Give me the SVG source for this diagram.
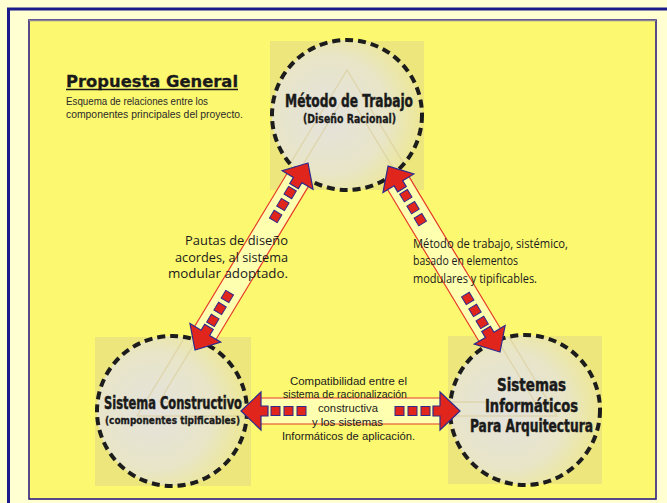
<svg xmlns="http://www.w3.org/2000/svg" width="667" height="503" viewBox="0 0 667 503">
<style>
.sq{fill:#ECE67C}
.ring{fill:none;stroke:#1c1c1c;stroke-width:4;stroke-dasharray:8 5}
.faint{fill:none;stroke:#D8CA92;stroke-width:1.4;opacity:0.55}
.band{fill:#FFFFB0}
.edge{stroke:#E63A28;stroke-width:1.2}
.head{fill:#E0261C;stroke:#2E2A8C;stroke-width:1.2;stroke-linejoin:miter}
.dash{fill:#E0261C;stroke:#2E2A8C;stroke-width:1}
.nt{font-family:'DejaVu Sans Condensed','Liberation Sans',sans-serif;font-weight:bold;fill:#1a1a1a;stroke:#1a1a1a;stroke-width:0.45}
.lbl{font-family:'Open Sans','Liberation Sans',sans-serif;fill:#1a1a1a}
.lbs{font-family:'Liberation Sans',sans-serif;fill:#1a1a1a;font-size:11px}
</style>
<defs>
<radialGradient id="cg" cx="0.38" cy="0.5" r="0.65">
<stop offset="0" stop-color="#E4E2DC"/>
<stop offset="0.6" stop-color="#E8E5C8"/>
<stop offset="1" stop-color="#EEE88E"/>
</radialGradient>
<clipPath id="c1"><circle cx="347" cy="115" r="75"/></clipPath>
<clipPath id="c2"><circle cx="172" cy="411" r="75"/></clipPath>
<clipPath id="c3"><circle cx="525" cy="410" r="75"/></clipPath>
</defs>
<rect x="0" y="0" width="667" height="503" fill="#FFFFD2"/>
<rect x="8.5" y="9" width="700" height="520" fill="#FFFFD2" stroke="#1A1A8A" stroke-width="3"/>
<rect x="29" y="20" width="627" height="479" fill="#FCF870" stroke="#2E1E80" stroke-width="1.6"/>
<line x1="29" y1="20.5" x2="656" y2="20.5" stroke="#8C8498" stroke-width="1.6"/>

<g id="title">
<text x="66" y="86.5" textLength="172" lengthAdjust="spacingAndGlyphs" style="font-family:'DejaVu Sans','Liberation Sans',sans-serif;font-weight:bold;font-size:16.5px;fill:#1a1a1a;stroke:#1a1a1a;stroke-width:0.3">Propuesta General</text>
<line x1="66" y1="89.5" x2="238" y2="89.5" stroke="#1a1a1a" stroke-width="1.6"/>
<text x="66" y="105" textLength="142" lengthAdjust="spacingAndGlyphs" style="font-family:'Liberation Sans',sans-serif;font-size:11.5px;fill:#2a2a2a">Esquema de relaciones entre los</text>
<text x="66" y="118" textLength="177" lengthAdjust="spacingAndGlyphs" style="font-family:'Liberation Sans',sans-serif;font-size:11.5px;fill:#2a2a2a">componentes principales del proyecto.</text>
</g>

<g id="node-metodo">
<rect class="sq" x="270" y="41" width="154" height="149"/>
<circle cx="347" cy="115" r="75" fill="url(#cg)"/>
<g clip-path="url(#c1)">
<polyline class="faint" points="137,416 347,70 557,416"/>
<polyline class="faint" points="159,402 347,92 535,402"/>
</g>
<circle class="ring" cx="347" cy="115" r="75"/>
<text class="nt" x="285" y="107" textLength="128" lengthAdjust="spacingAndGlyphs" style="font-size:18px">Método de Trabajo</text>
<text class="nt" x="303" y="123" textLength="93" lengthAdjust="spacingAndGlyphs" style="font-size:11.5px;stroke-width:0.3">(Diseño Racional)</text>
</g>

<g id="node-sistema-constructivo">
<rect class="sq" x="95" y="337" width="156" height="149"/>
<circle cx="172" cy="411" r="75" fill="url(#cg)"/>
<g clip-path="url(#c2)">
<polyline class="faint" points="137,416 347,70 557,416 137,416"/>
<polyline class="faint" points="159,402 347,92 535,402 159,402"/>
</g>
<circle class="ring" cx="172" cy="411" r="75"/>
<text class="nt" x="104" y="409" textLength="138" lengthAdjust="spacingAndGlyphs" style="font-size:17px">Sistema Constructivo</text>
<text class="nt" x="105" y="424" textLength="135" lengthAdjust="spacingAndGlyphs" style="font-size:11px;stroke-width:0.3">(componentes tipificables)</text>
</g>

<g id="node-sistemas-informaticos">
<rect class="sq" x="448" y="336" width="154" height="148"/>
<circle cx="525" cy="410" r="75" fill="url(#cg)"/>
<g clip-path="url(#c3)">
<polyline class="faint" points="137,416 347,70 557,416 137,416"/>
<polyline class="faint" points="159,402 347,92 535,402 159,402"/>
</g>
<circle class="ring" cx="525" cy="410" r="75"/>
<text class="nt" x="497" y="391" textLength="69" lengthAdjust="spacingAndGlyphs" style="font-size:17px">Sistemas</text>
<text class="nt" x="485" y="412" textLength="93" lengthAdjust="spacingAndGlyphs" style="font-size:17px">Informáticos</text>
<text class="nt" x="470" y="432" textLength="123" lengthAdjust="spacingAndGlyphs" style="font-size:17px">Para Arquitectura</text>
</g>

<g id="connectors">
<g id="arrow-left" transform="translate(195,350) rotate(-58.86)">
<rect class="band" x="14" y="-12.5" width="190.5" height="25"/>
<line class="edge" x1="14" y1="-12.5" x2="204.5" y2="-12.5"/>
<line class="edge" x1="14" y1="12.5" x2="204.5" y2="12.5"/>
<polygon class="head" points="0,0 20,-18 20,-5 27,-5 27,5 20,5 20,18"/>
<rect class="dash" x="30" y="-4.5" width="9" height="9"/>
<rect class="dash" x="44" y="-4.5" width="9" height="9"/>
<rect class="dash" x="58" y="-4.5" width="9" height="9"/>
<polygon class="head" points="218.5,0 198.5,-18 198.5,-5 191.5,-5 191.5,5 198.5,5 198.5,18"/>
<rect class="dash" x="179.5" y="-4.5" width="9" height="9"/>
<rect class="dash" x="165.5" y="-4.5" width="9" height="9"/>
<rect class="dash" x="151.5" y="-4.5" width="9" height="9"/>
</g>
<g id="arrow-right" transform="translate(500,352) rotate(-121.06)">
<rect class="band" x="14" y="-12.5" width="189" height="25"/>
<line class="edge" x1="14" y1="-12.5" x2="203" y2="-12.5"/>
<line class="edge" x1="14" y1="12.5" x2="203" y2="12.5"/>
<polygon class="head" points="0,0 20,-18 20,-5 27,-5 27,5 20,5 20,18"/>
<rect class="dash" x="30" y="-4.5" width="9" height="9"/>
<rect class="dash" x="44" y="-4.5" width="9" height="9"/>
<rect class="dash" x="58" y="-4.5" width="9" height="9"/>
<polygon class="head" points="217,0 197,-18 197,-5 190,-5 190,5 197,5 197,18"/>
<rect class="dash" x="178" y="-4.5" width="9" height="9"/>
<rect class="dash" x="164" y="-4.5" width="9" height="9"/>
<rect class="dash" x="150" y="-4.5" width="9" height="9"/>
</g>
<g id="arrow-bottom" transform="translate(241,411)">
<rect class="band" x="14" y="-13" width="191" height="26"/>
<line class="edge" x1="14" y1="-13" x2="205" y2="-13"/>
<line class="edge" x1="14" y1="13" x2="205" y2="13"/>
<polygon class="head" points="0,0 20,-19 20,-5 27,-5 27,5 20,5 20,19"/>
<rect class="dash" x="30" y="-4.5" width="9" height="9"/>
<rect class="dash" x="43" y="-4.5" width="9" height="9"/>
<rect class="dash" x="56" y="-4.5" width="9" height="9"/>
<polygon class="head" points="219,0 199,-19 199,-5 192,-5 192,5 199,5 199,19"/>
<rect class="dash" x="180" y="-4.5" width="9" height="9"/>
<rect class="dash" x="167" y="-4.5" width="9" height="9"/>
<rect class="dash" x="154" y="-4.5" width="9" height="9"/>
</g>
</g>

<g id="labels">
<text class="lbl" x="185" y="244.5" textLength="103" lengthAdjust="spacingAndGlyphs" style="font-size:13.5px">Pautas de diseño</text>
<text class="lbl" x="175" y="261.5" textLength="113" lengthAdjust="spacingAndGlyphs" style="font-size:13.5px">acordes, al sistema</text>
<text class="lbl" x="168" y="278" textLength="120" lengthAdjust="spacingAndGlyphs" style="font-size:13.5px">modular adoptado.</text>
<text class="lbl" x="413" y="248" textLength="155" lengthAdjust="spacingAndGlyphs" style="font-size:12.5px">Método de trabajo, sistémico,</text>
<text class="lbl" x="413" y="265" textLength="105" lengthAdjust="spacingAndGlyphs" style="font-size:12.5px">basado en elementos</text>
<text class="lbl" x="413" y="282.5" textLength="124" lengthAdjust="spacingAndGlyphs" style="font-size:12.5px">modulares y tipificables.</text>
<text class="lbs" x="290" y="385" textLength="117" lengthAdjust="spacingAndGlyphs">Compatibilidad entre el</text>
<text class="lbs" x="283" y="398" textLength="124" lengthAdjust="spacingAndGlyphs">sistema de racionalización</text>
<text class="lbs" x="318" y="411.5" textLength="60" lengthAdjust="spacingAndGlyphs">constructiva</text>
<text class="lbs" x="312" y="425.5" textLength="71" lengthAdjust="spacingAndGlyphs">y los sistemas</text>
<text class="lbs" x="282" y="440" textLength="133" lengthAdjust="spacingAndGlyphs">Informáticos de aplicación.</text>
</g>
</svg>
